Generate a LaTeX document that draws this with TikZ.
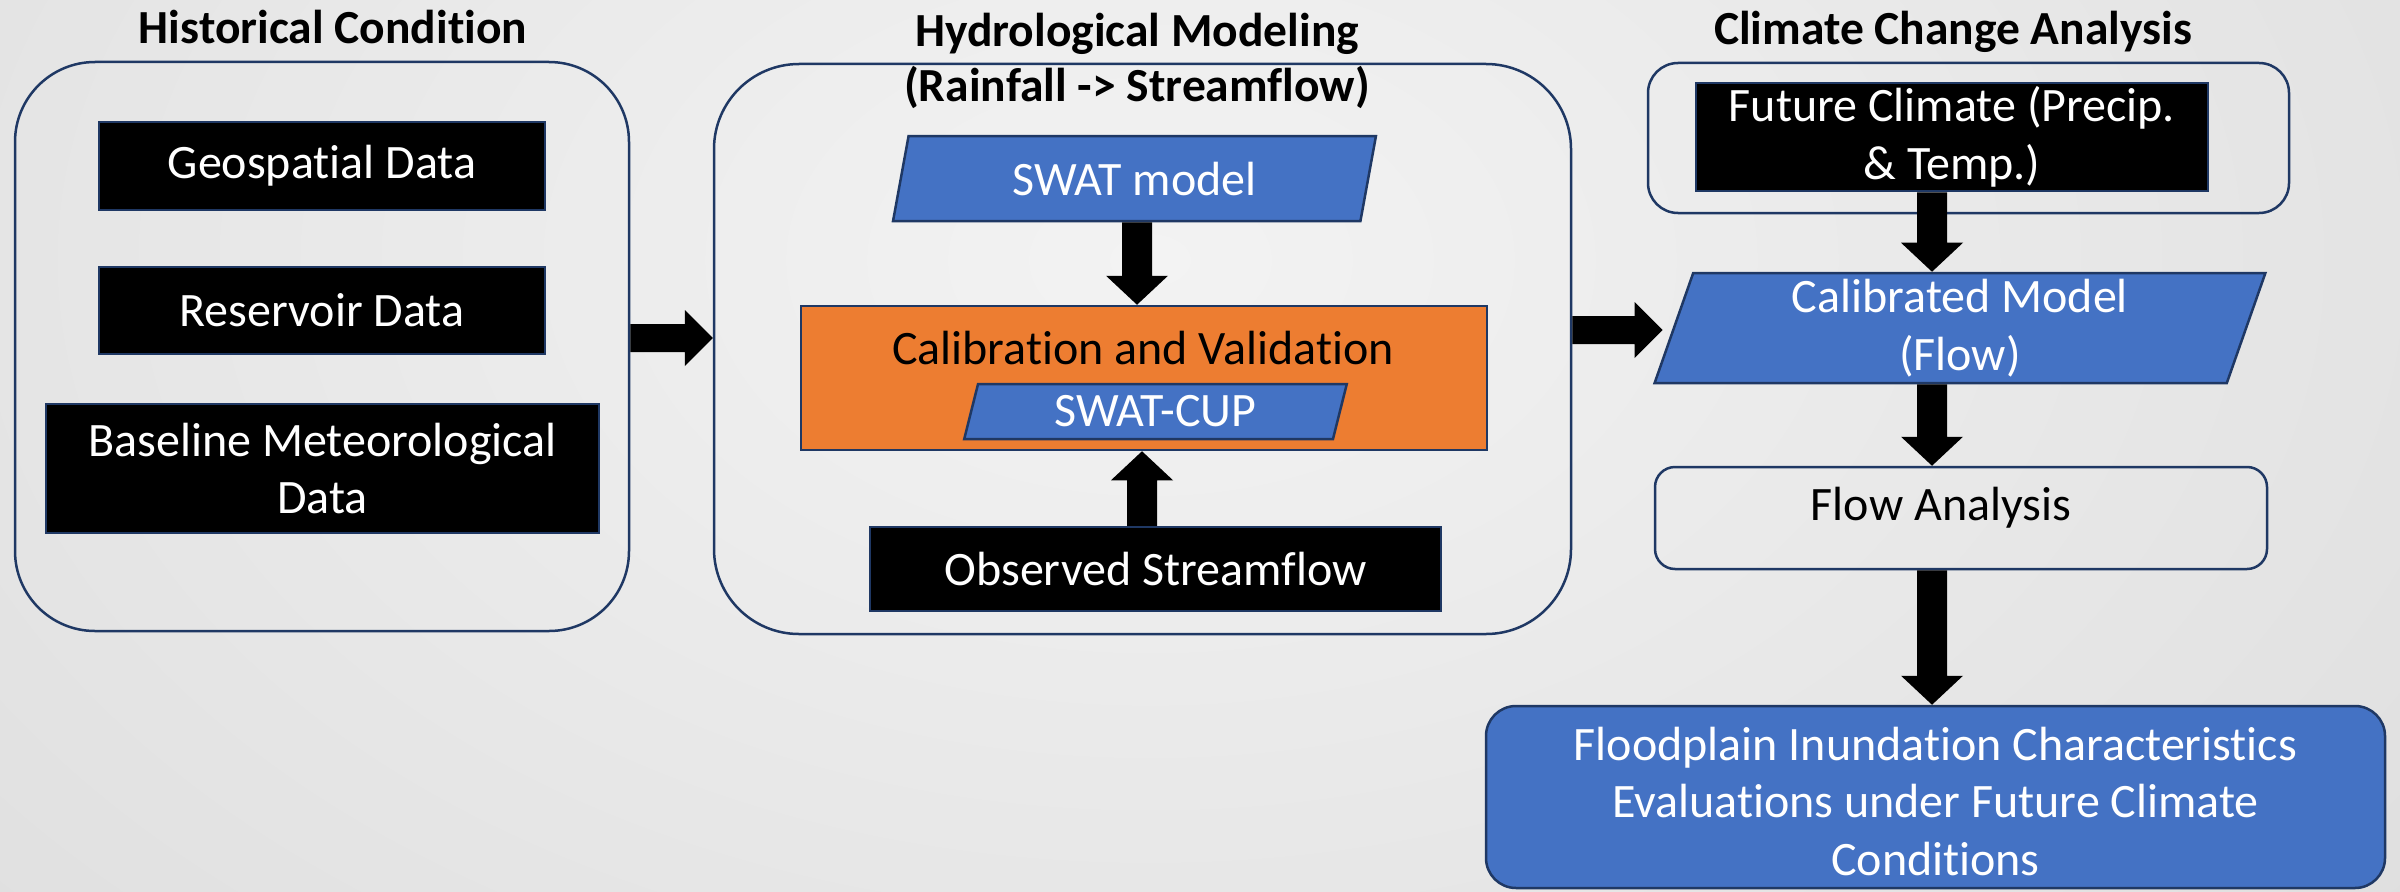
\documentclass[tikz,border=0pt]{standalone}
\usepackage{fontspec}
\setmainfont{Carlito}[Ligatures=NoCommon]
\usetikzlibrary{shapes.geometric,calc}
\definecolor{navy}{HTML}{1F3864}
\definecolor{blueA}{HTML}{4472C4}
\definecolor{orangeA}{HTML}{ED7D31}
\definecolor{bgin}{HTML}{F3F3F3}
\definecolor{bgout}{HTML}{DEDEDE}
\newcommand\hblk[2]{\fill[black] ($#1+(0,14pt)$) -- ($#2+(-28pt,14pt)$) -- ($#2+(-28pt,28pt)$) -- #2 -- ($#2+(-28pt,-28pt)$) -- ($#2+(-28pt,-14pt)$) -- ($#1+(0,-14pt)$) -- cycle;}
\newcommand\vblk[3]{\fill[black] ($#1+(-15pt,0)$) -- ($#2+(-15pt,{#3*29pt})$) -- ($#2+(-31pt,{#3*29pt})$) -- #2 -- ($#2+(31pt,{#3*29pt})$) -- ($#2+(15pt,{#3*29pt})$) -- ($#1+(15pt,0)$) -- cycle;}
\begin{document}
\begin{tikzpicture}[x=1pt,y=-1pt,
  body/.style={font=\fontsize{48}{57.5}\selectfont, align=center, inner sep=0pt},
  ttl/.style={font=\fontsize{47.5}{55}\selectfont\bfseries, align=center, inner sep=0pt},
  outl/.style={draw=navy, line width=2.5pt},
  blk/.style={body, outl, fill=black, text=white},
  para/.style={body, outl, fill=blueA, text=white, trapezium, trapezium left angle=76, trapezium right angle=104, trapezium stretches=true}]
\useasboundingbox (0,0) rectangle (2400,891);
\begin{scope}
\clip (0,0) rectangle (2400,891);
\shade[inner color=bgin, outer color=bgout] (1150,260) ellipse [x radius=1700pt, y radius=1100pt];
\end{scope}
% containers
\node[outl, rounded corners=80pt, minimum width=614pt, minimum height=569pt] (hist) at (322,346.5) {};
\node[outl, rounded corners=85pt, minimum width=857pt, minimum height=570pt] (hyd) at (1142.5,349) {};
\node[outl, rounded corners=30pt, minimum width=641pt, minimum height=150pt] (fcwrap) at (1968.5,138) {};
% titles
\node[ttl, anchor=base] (t1) at (333,44) {Historical Condition};
\node[ttl] (t2) at (1137,61) {Hydrological Modeling\\(Rainfall -> Streamflow)};
\node[ttl, anchor=base] (t3) at (1953,45) {Climate Change Analysis};
% left column
\node[blk, minimum width=446pt, minimum height=88pt] (geo) at (322,166) {Geospatial Data};
\node[blk, minimum width=446pt, minimum height=87pt] (res) at (322,310.5) {Reservoir Data};
\node[blk, minimum width=553pt, minimum height=129pt] (base) at (322.5,468.5) {Baseline Meteorological\\Data};
% middle column
\node[para, minimum width=483pt, minimum height=85pt] (swat) at (1134.5,178.5) {SWAT model};
\node[outl, fill=orangeA, minimum width=686pt, minimum height=144pt] (calib) at (1144,378) {};
\node[body, anchor=base] (calibtxt) at (1143,364) {Calibration and Validation};
\node[para, minimum width=383pt, minimum height=55pt] (cup) at (1155.5,411.5) {SWAT-CUP};
\node[blk, minimum width=571pt, minimum height=84pt] (obs) at (1155.5,569) {Observed Streamflow};
% right column
\node[blk, minimum width=512pt, minimum height=108pt] (fc) at (1952,137) {Future Climate (Precip.\\\& Temp.)};
\node[para, minimum width=612pt, minimum height=110pt] (cal) at (1960,328) {Calibrated Model\\(Flow)};
\node[outl, rounded corners=20pt, minimum width=612pt, minimum height=102pt] (fa) at (1961,518) {};
\node[body, anchor=base] (fatxt) at (1941,520) {Flow Analysis};
\node[body, outl, rounded corners=30pt, fill=blueA, text=white, minimum width=899pt, minimum height=182pt] (flood) at (1935.5,797) {};
\node[body, text=white] (floodtxt) at (1935.5,801) {Floodplain Inundation Characteristics\\Evaluations under Future Climate\\Conditions};
% arrows
\coordinate (rA1) at (0,338);
\coordinate (rA2) at (0,330);
\coordinate (cM1) at (1137,0);
\coordinate (cM2) at (1142,0);
\coordinate (cR) at (1932,0);
\hblk{(hist.east |- rA1)}{(hyd.west |- rA1)}
\hblk{(hyd.east |- rA2)}{($(cal.west |- rA2)+(-10pt,0)$)}
\vblk{(swat.south -| cM1)}{(calib.north -| cM1)}{1}
\vblk{(obs.north -| cM2)}{(calib.south -| cM2)}{-1}
\vblk{(fc.south -| cR)}{(cal.north -| cR)}{1}
\vblk{(cal.south -| cR)}{(fa.north -| cR)}{1}
\vblk{(fa.south -| cR)}{(flood.north -| cR)}{1}
\end{tikzpicture}
\end{document}
